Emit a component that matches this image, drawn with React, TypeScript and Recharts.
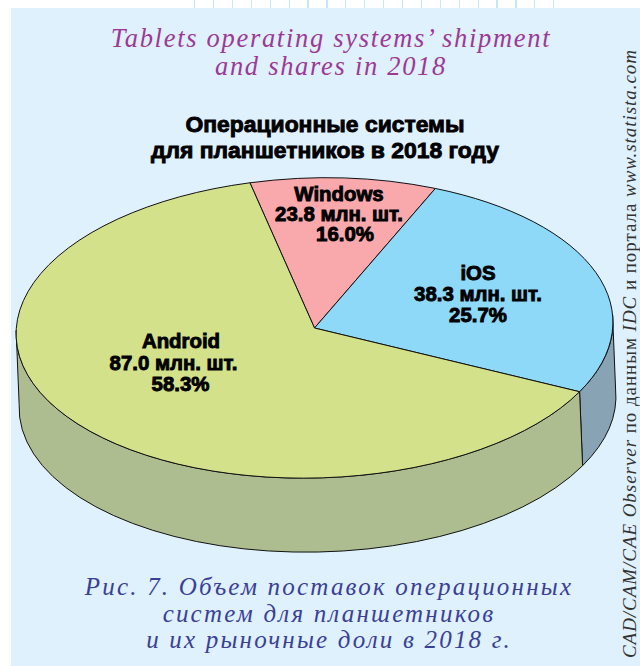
import { Pie, PieChart } from "recharts";

const categories = ["Windows", "iOS", "Android"];
const shipments = [23.8, 38.3, 87.0];
const shipmentLabels = ["23.8 млн. шт.", "38.3 млн. шт.", "87.0 млн. шт."];
const shareLabels = ["16.0%", "25.7%", "58.3%"];
const topColors = ["#f9a8ac", "#8ed8f8", "#d3e18a"];
const wallColors = ["#b07a7c", "#88a3b3", "#adbd90"];

const titleLines = ["Tablets operating systems’ shipment", "and shares in 2018"];
const headingLines = ["Операционные системы", "для планшетников в 2018 году"];
const captionLines = [
  "Рис. 7. Объем поставок операционных",
  "систем для планшетников",
  "и их рыночные доли в 2018 г.",
];

const topData = categories.map((name, i) => ({ name, value: shipments[i], fill: topColors[i] }));
const wallData = categories.map((name, i) => ({ name, value: shipments[i], fill: wallColors[i] }));

// tilted pie layout
const CX = 314.5;
const CY = 328;
const RX = 298.5;
const RY = 150;
const WALL_DX = 3;
const WALL_DY = 74;
const TILT = 1.5; // degrees, right side of the disc sits a bit higher
const rad = Math.PI / 180;

// label lines: x of each line, first baseline, line step
const labelSpots = [
  { xs: [339, 339, 345], y: 201, step: 20 },
  { xs: [478, 478, 478], y: 280, step: 21 },
  { xs: [181, 173.5, 180.5], y: 348, step: 21.5 },
];

// far side of the disc is foreshortened, so slices there look narrower
const warp = (a: number) => a - 22.9 * Math.sin((a + 4.5) * rad);
const pt = (a: number, dx = 0, dy = 0) => {
  const u = RX * Math.sin(a * rad);
  const v = -RY * Math.cos(a * rad);
  const c = Math.cos(TILT * rad);
  const s = Math.sin(TILT * rad);
  return `${(CX + dx + u * c + v * s).toFixed(2)} ${(CY + dy - u * s + v * c).toFixed(2)}`;
};

function TopSlice(props: any) {
  const a0 = warp(90 - props.startAngle);
  const a1 = warp(90 - props.endAngle);
  const large = a1 - a0 > 180 ? 1 : 0;
  const d = `M ${CX} ${CY} L ${pt(a0)} A ${RX} ${RY} ${-TILT} ${large} 1 ${pt(a1)} Z`;
  return <path d={d} fill={props.fill} stroke="#111" strokeWidth={1} strokeLinejoin="round" />;
}

function WallSlice(props: any) {
  // only the part of the rim facing the viewer
  const a0 = Math.max(warp(90 - props.startAngle), 88);
  const a1 = Math.min(warp(90 - props.endAngle), 272);
  if (a1 <= a0) return null;
  const large = a1 - a0 > 180 ? 1 : 0;
  const d =
    `M ${pt(a0)} A ${RX} ${RY} ${-TILT} ${large} 1 ${pt(a1)} ` +
    `L ${pt(a1, WALL_DX, WALL_DY)} A ${RX} ${RY} ${-TILT} ${large} 0 ${pt(a0, WALL_DX, WALL_DY)} Z`;
  return <path d={d} fill={props.fill} stroke="#111" strokeWidth={1} strokeLinejoin="round" />;
}

function SliceLabel(props: any) {
  const i = props.index;
  const spot = labelSpots[i];
  const lines = [categories[i], shipmentLabels[i], shareLabels[i]];
  return (
    <text
      textAnchor="middle"
      fontFamily="'Liberation Sans', sans-serif"
      fontWeight={700}
      fontSize={20.4}
      fill="#000"
      stroke="#000"
      strokeWidth={0.9}
    >
      {lines.map((l, k) => (
        <tspan key={l} x={spot.xs[k]} y={spot.y + k * spot.step}>
          {l}
        </tspan>
      ))}
    </text>
  );
}

const ticks = [0, 1, 2, 3, 4, 5, 6, 7, 8, 9, 10, 11, 12, 13, 14, 15, 16, 17, 18, 19];

export default function App() {
  return (
    <div style={{ position: "absolute", left: 0, top: 0, width: 640, height: 666, background: "#fff", overflow: "hidden" }}>
      <div style={{ position: "absolute", left: 11, top: 8, width: 629, height: 658, background: "#dff1fc" }} />
      {ticks.map((t) => (
        <div key={t} style={{ position: "absolute", left: 194 + t * 18.9, top: 0, width: 1.3, height: 8, background: "#c4e8fb" }} />
      ))}
      <div style={{ position: "absolute", left: 0, top: 0 }}>
        <PieChart width={640} height={666} margin={{ top: 0, right: 0, bottom: 0, left: 0 }}>
          <Pie
            data={wallData}
            dataKey="value"
            cx={CX}
            cy={CY}
            outerRadius={RX}
            startAngle={106.5}
            endAngle={-253.5}
            shape={WallSlice}
            isAnimationActive={false}
          />
          <Pie
            data={topData}
            dataKey="value"
            cx={CX}
            cy={CY}
            outerRadius={RX}
            startAngle={106.5}
            endAngle={-253.5}
            shape={TopSlice}
            label={SliceLabel}
            labelLine={false}
            isAnimationActive={false}
          />
        </PieChart>
      </div>
      <svg width={640} height={666} style={{ position: "absolute", left: 0, top: 0, pointerEvents: "none" }}>
        <g fontFamily="'Liberation Serif', serif" fontStyle="italic" fontSize={26.5} fill="#9c3a96" textAnchor="middle" letterSpacing={1.7}>
          {titleLines.map((l, i) => (
            <text key={l} x={331} y={47 + i * 28}>{l}</text>
          ))}
        </g>
        <g fontFamily="'Liberation Sans', sans-serif" fontWeight={700} fontSize={22.9} fill="#000" stroke="#000" strokeWidth={0.9} textAnchor="middle">
          {headingLines.map((l, i) => (
            <text key={l} x={325} y={132 + i * 26}>{l}</text>
          ))}
        </g>
        <g fontFamily="'Liberation Serif', serif" fontStyle="italic" fontSize={25} fill="#3a4096" textAnchor="middle" letterSpacing={2.2}>
          {captionLines.map((l, i) => (
            <text key={l} x={329} y={595 + i * 26.5}>{l}</text>
          ))}
        </g>
        <text
          transform="translate(636 658) rotate(-90)"
          fontFamily="'Liberation Serif', serif"
          fontSize={19}
          fill="#333"
          letterSpacing={0.95}
        >
          <tspan fontStyle="italic">CAD/CAM/CAE Observer</tspan>
          <tspan> по данным </tspan>
          <tspan fontStyle="italic">IDC</tspan>
          <tspan> и портала </tspan>
          <tspan fontStyle="italic">www.statista.com</tspan>
        </text>
      </svg>
    </div>
  );
}
